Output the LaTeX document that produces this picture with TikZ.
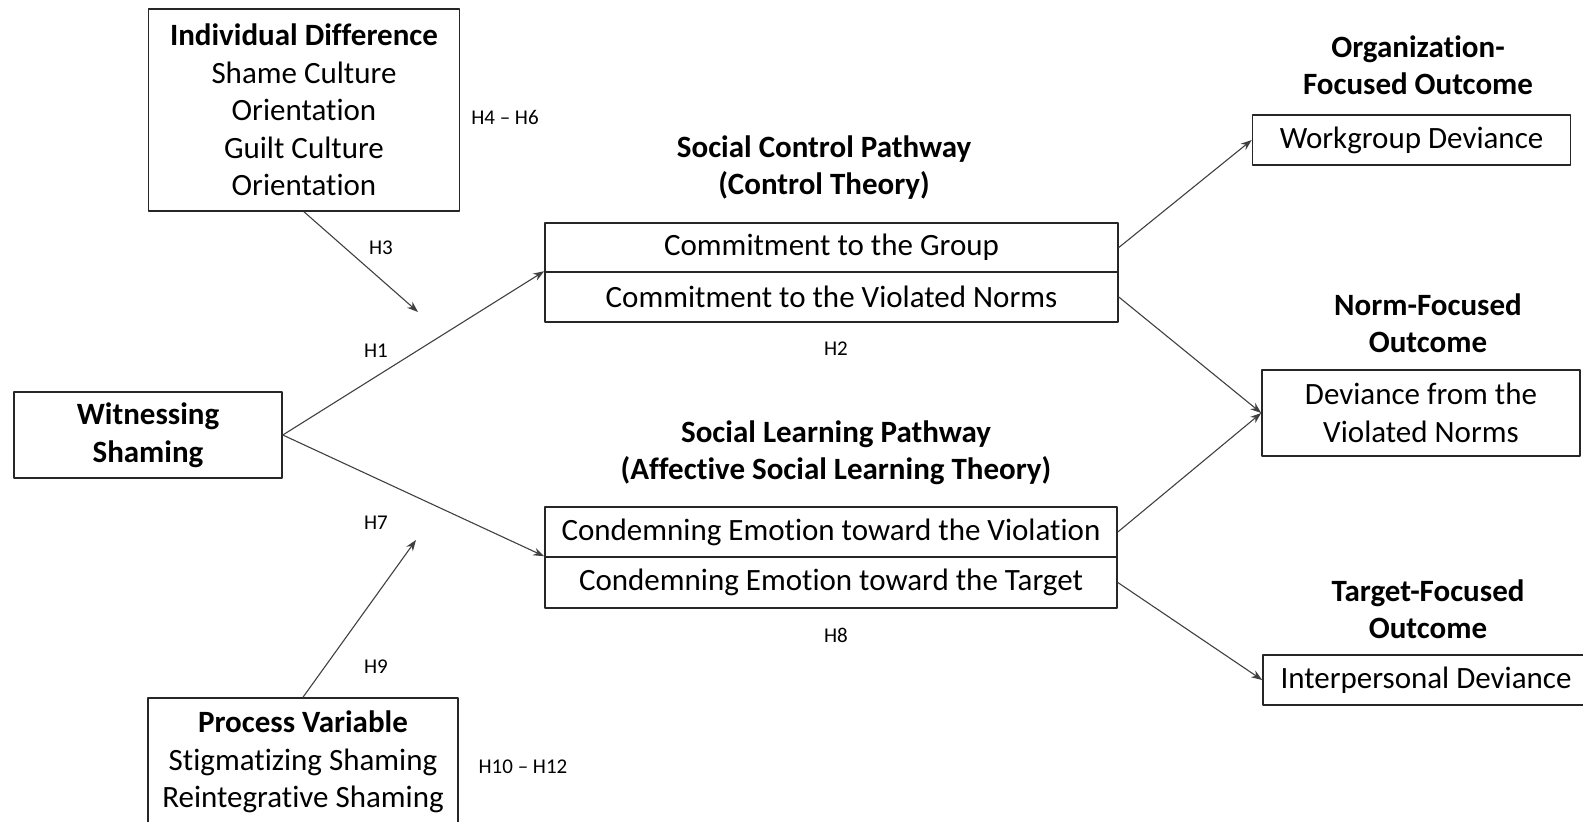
\documentclass[tikz,border=0pt]{standalone}
\usepackage{fontspec}
\setmainfont{Carlito}[Ligatures={TeX,NoCommon}]
\usetikzlibrary{arrows.meta}
\begin{document}
\begin{tikzpicture}[x=1pt, y=-1pt, line join=round, line cap=round, >={Stealth[length=11pt,width=8pt]},
	box/.style={draw=black!85, line width=1.6pt, align=center, inner sep=0pt, font=\fontsize{31}{37.5}\selectfont},
	ttl/.style={align=center, font=\fontsize{31}{37}\selectfont\bfseries},
	hyp/.style={font=\fontsize{21}{24}\selectfont},
	arr/.style={->, draw=black!75, line width=1.1pt}]
	\useasboundingbox (0,0) rectangle (1583,822);
	% moderators and predictor
	\node[box, minimum width=311pt, minimum height=202pt] (ind) at (304,110) {\textbf{Individual Difference}\\Shame Culture\\Orientation\\Guilt Culture\\Orientation};
	\node[box, minimum width=268pt, minimum height=86pt] (wit) at (148,435) {\textbf{Witnessing}\\\textbf{Shaming}};
	\node[box, minimum width=310pt, minimum height=128pt] (proc) at (303,762) {\textbf{Process Variable}\\Stigmatizing Shaming\\Reintegrative Shaming};
	% mediators
	\node[box, minimum width=573pt, minimum height=49pt] (cg) at (831.5,247.5) {Commitment to the Group};
	\node[box, minimum width=573pt, minimum height=50pt] (vn) at (831.5,297) {Commitment to the Violated Norms};
	\node[box, minimum width=572pt, minimum height=50pt] (ce1) at (831,532) {Condemning Emotion toward the Violation};
	\node[box, minimum width=572pt, minimum height=51pt] (ce2) at (831,582.5) {Condemning Emotion toward the Target};
	\node[ttl] (sct) at (824,168) {Social Control Pathway\\(Control Theory)};
	\node[ttl] (slt) at (836,453) {Social Learning Pathway\\(Affective Social Learning Theory)};
	% outcomes
	\node[ttl] (orgt) at (1418,65) {Organization-\\Focused Outcome};
	\node[box, minimum width=318pt, minimum height=50pt] (wg) at (1411.5,140) {Workgroup Deviance};
	\node[ttl] (nft) at (1428,323) {Norm-Focused\\Outcome};
	\node[box, minimum width=318pt, minimum height=86pt] (dv) at (1421,413) {Deviance from the\\Violated Norms};
	\node[ttl] (tft) at (1428,609) {Target-Focused\\Outcome};
	\node[box, minimum width=326pt, minimum height=50pt] (ip) at (1426,680) {Interpersonal Deviance};
	% paths
	\coordinate (m1) at (418,312);
	\coordinate (m2) at (416,540);
	\draw[arr] (ind.south)--(m1);
	\draw[arr] (proc.north)--(m2);
	\draw[arr] (wit.east)--(vn.north west);
	\draw[arr] (wit.east)--(ce2.north west);
	\draw[arr] (cg.east)--(wg.west);
	\draw[arr] (vn.east)--(dv.west);
	\draw[arr] (ce1.east)--(dv.west);
	\draw[arr] (ce2.east)--(ip.west);
	\path[hyp]
	(505,117) node (h46){H4 -- H6}
	(381,248) node (h3){H3}
	(376,351) node (h1){H1}
	(836,349) node (h2){H2}
	(376,523) node (h7){H7}
	(836,635) node (h8){H8}
	(376,667) node (h9){H9}
	(523,767) node (h1012){H10 -- H12};
\end{tikzpicture}
\end{document}
